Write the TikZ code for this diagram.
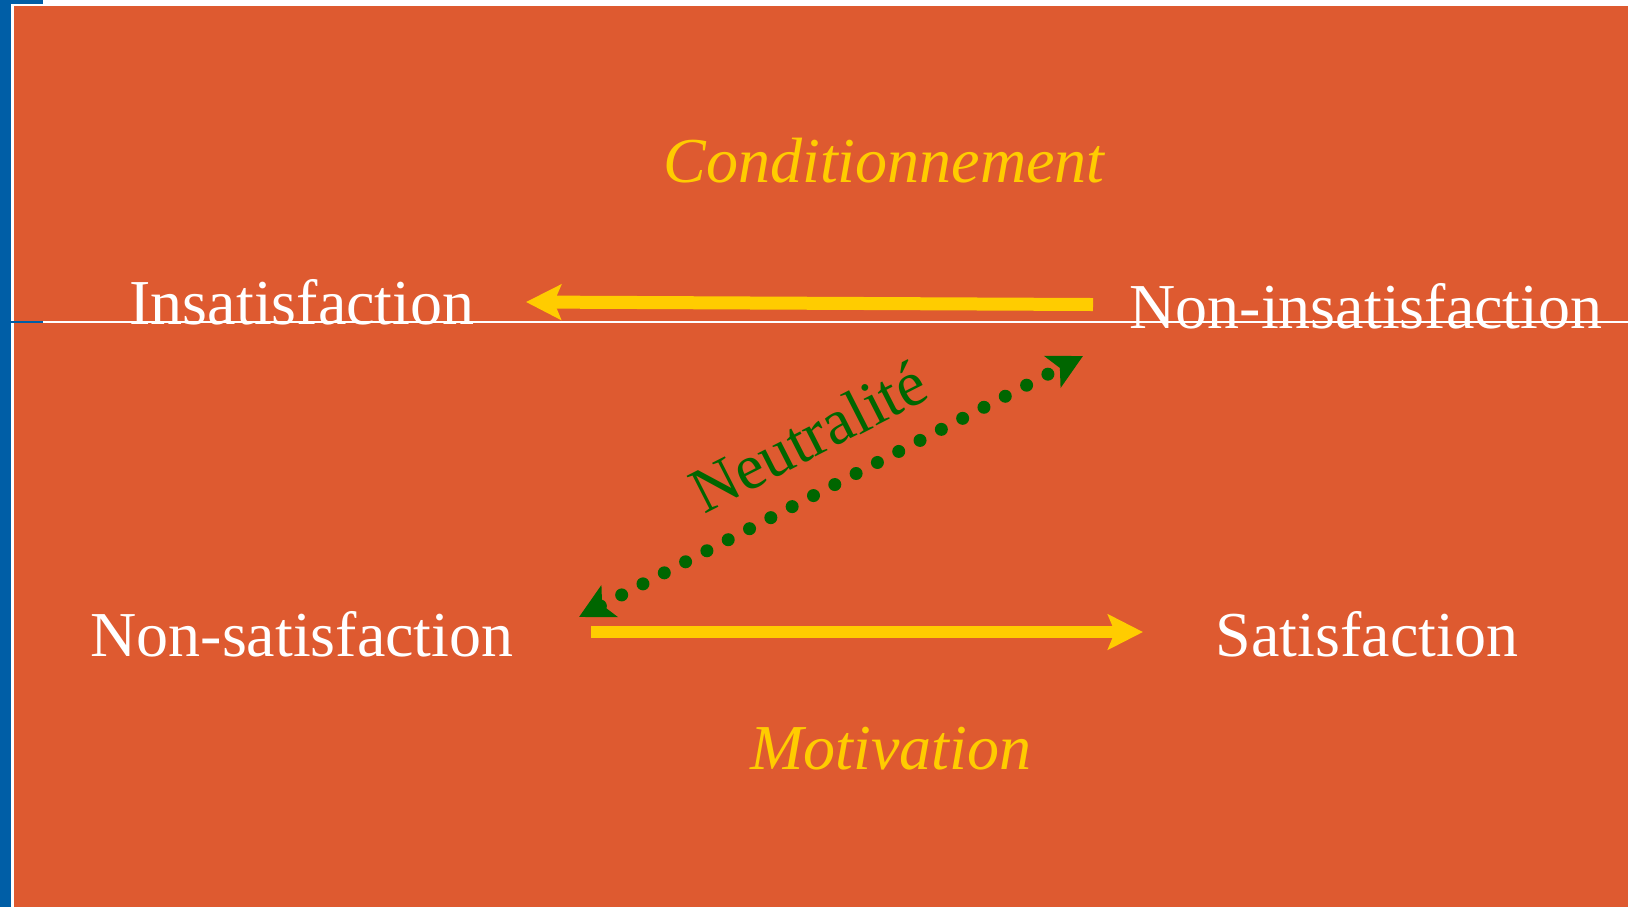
\documentclass[tikz,border=0pt]{standalone}
\usepackage{fontspec}
\setmainfont{Liberation Serif}
\usetikzlibrary{arrows.meta}
\definecolor{bgorange}{RGB}{222,90,48}
\definecolor{barblue}{RGB}{0,94,166}
\definecolor{arrowyellow}{RGB}{255,204,0}
\definecolor{darkgreen}{RGB}{0,102,0}
\tikzset{
  state/.style={text=white, inner sep=0pt, anchor=base, font=\fontsize{32}{38}\selectfont},
  phase/.style={text=arrowyellow, inner sep=0pt, anchor=base, font=\fontsize{32}{38}\selectfont\itshape},
  flow/.style={draw=arrowyellow, line width=6.5pt,
    -{Stealth[length=17.5pt, width=17.5pt, inset=3.5pt]}},
  neutral/.style={draw=darkgreen, line width=6.5pt, line cap=round,
    dash pattern=on 0pt off 12pt,
    {Stealth[length=17pt, width=17.5pt, inset=4pt]}-{Stealth[length=17pt, width=17.5pt, inset=4pt]}}
}
\begin{document}
\begin{tikzpicture}[x=0.5pt, y=-0.5pt]
  \useasboundingbox (0,0) rectangle (1628,907);
  % frame: white page, blue side bar, orange panel
  \fill[white] (0,0) rectangle (1628,907);
  \fill[barblue] (0,0) rectangle (11,907);
  \fill[barblue] (0,0) rectangle (43,4);
  \fill[bgorange] (14,6) rectangle (1628,907);
  \draw[white, line width=0.6pt] (43,322) -- (1628,322);
  \draw[barblue, line width=0.6pt] (11,322) -- (43,322);

  % states
  \node[state] (ins)    at (302,324)  {Insatisfaction};
  \node[state] (nonins) at (1366,328) {Non-insatisfaction};
  \node[state] (nonsat) at (302,656)  {Non-satisfaction};
  \node[state] (sat)    at (1367,656) {Satisfaction};

  % phase labels
  \node[phase] (cond) at (884,182) {Conditionnement};
  \node[phase] (moti) at (891,769) {Motivation};
  \node[text=darkgreen, inner sep=0pt, anchor=base, rotate=27,
        font=\fontsize{32}{38}\selectfont] (neut) at (818,456) {Neutralité};

  % arrow end points
  \coordinate (condA) at (1093,304.5);
  \coordinate (condB) at (526,302);
  \coordinate (motiA) at (591,632);
  \coordinate (motiB) at (1143,632);
  \coordinate (neutA) at (579,617);
  \coordinate (neutB) at (1083,356);

  \draw[flow] (condA) -- (condB);
  \draw[flow, line width=6pt] (motiA) -- (motiB);
  \draw[neutral] (neutA) -- (neutB);
\end{tikzpicture}
\end{document}
